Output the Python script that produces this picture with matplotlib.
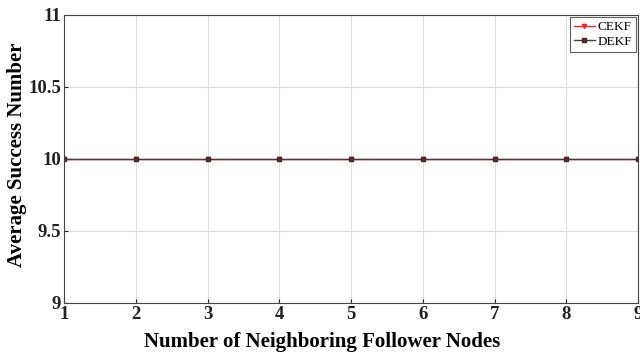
import matplotlib
matplotlib.use("Agg")
import matplotlib.pyplot as plt

nodes = [1, 2, 3, 4, 5, 6, 7, 8, 9]
cekf = [10, 10, 10, 10, 10, 10, 10, 10, 10]
dekf = [10, 10, 10, 10, 10, 10, 10, 10, 10]
yticks = [9, 9.5, 10, 10.5, 11]
ytick_labels = ["9", "9.5", "10", "10.5", "11"]

plt.rcParams['font.family'] = ['Liberation Serif', 'DejaVu Serif']

fig = plt.figure(figsize=(6.4, 3.56), dpi=100)
ax = fig.add_axes([0.1, 0.149, 0.897, 0.809])

ax.plot(nodes, cekf, color='#ff2020', marker='v', markersize=3, linewidth=1.0, label='CEKF')
ax.plot(nodes, dekf, color='#404040', marker='s', markersize=3, markerfacecolor='#a01010',
        markeredgecolor='#303030', linewidth=1.0, label='DEKF')

ax.set_xlim(1, 9)
ax.set_ylim(9, 11)
ax.set_xticks(nodes)
ax.set_xticklabels([str(n) for n in nodes], fontsize=13.5, fontweight='bold')
ax.set_yticks(yticks)
ax.set_yticklabels(ytick_labels, fontsize=13.5, fontweight='bold')
ax.grid(True, color='#dcdcdc', linewidth=0.8)
ax.tick_params(direction='in', length=3, pad=2, colors='#222222')
for s in ax.spines.values():
    s.set_color('#444444')
    s.set_linewidth(0.8)

fig.text(0.503, 0.012, 'Number of Neighboring Follower Nodes', fontsize=15, fontweight='bold',
         ha='center', va='bottom')
fig.text(0.026, 0.565, 'Average Success Number', fontsize=15, fontweight='bold',
         ha='center', va='center', rotation=90)

leg = ax.legend(loc='upper right', fontsize=9.5, frameon=True, fancybox=False, borderaxespad=0.15,
                handlelength=1.6, handletextpad=0.2, borderpad=0.3, labelspacing=0.2)
leg.get_frame().set_edgecolor('#333333')
leg.get_frame().set_linewidth(0.8)

fig.savefig('out.png', dpi=100)
